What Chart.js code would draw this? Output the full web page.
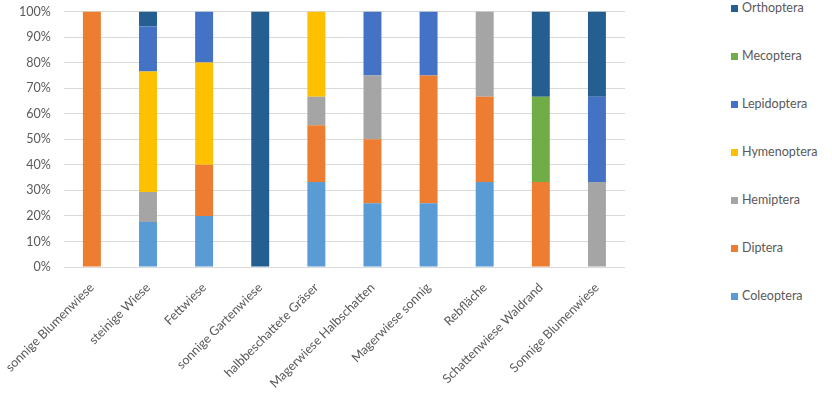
<!DOCTYPE html>
<html>
<head>
<meta charset="utf-8">
<script src="https://cdn.jsdelivr.net/npm/chart.js@4"></script>
<style>
    html, body { margin: 0; padding: 0; background: #fff; overflow: hidden; }
    #wrap { position: relative; width: 832px; height: 396px; overflow: hidden; }
    #box { position: absolute; left: 0; top: -9px; width: 640px; height: 405px; }
    #legend { position: absolute; left: 731px; top: 0; font: 12.5px Lato, sans-serif; color: #595959; }
    #legend .item { position: absolute; left: 0; height: 14px; line-height: 14px; white-space: nowrap; }
    #legend .sw { display: inline-block; width: 7px; height: 7px; margin-right: 4px; vertical-align: 0px; }
</style>
</head>
<body>
<div id="wrap">
    <div id="box"><canvas id="chart"></canvas></div>
    <div id="legend"></div>
</div>
<script>
// categories
const categories = ['sonnige Blumenwiese', 'steinige Wiese', 'Fettwiese', 'sonnige Gartenwiese',
    'halbbeschattete Gräser', 'Magerwiese Halbschatten', 'Magerwiese sonnig', 'Rebfläche',
    'Schattenwiese Waldrand', 'Sonnige Blumenwiese'];

// share per site in %
const coleoptera  = [0, 17.6, 20, 0, 33.3, 25, 25, 33.3, 0, 0];
const diptera     = [100, 0, 20, 0, 22.2, 25, 50, 33.3, 33.3, 0];
const hemiptera   = [0, 11.8, 0, 0, 11.1, 25, 0, 33.4, 0, 33.3];
const hymenoptera = [0, 47.1, 40, 0, 33.4, 0, 0, 0, 0, 0];
const lepidoptera = [0, 17.6, 20, 0, 0, 25, 25, 0, 0, 33.3];
const mecoptera   = [0, 0, 0, 0, 0, 0, 0, 0, 33.3, 0];
const orthoptera  = [0, 5.9, 0, 100, 0, 0, 0, 0, 33.4, 33.4];

const yTicks = [0, 10, 20, 30, 40, 50, 60, 70, 80, 90, 100];

const series = [
    ['Coleoptera', coleoptera, '#5B9BD5'],
    ['Diptera', diptera, '#ED7D31'],
    ['Hemiptera', hemiptera, '#A5A5A5'],
    ['Hymenoptera', hymenoptera, '#FFC000'],
    ['Lepidoptera', lepidoptera, '#4472C4'],
    ['Mecoptera', mecoptera, '#70AD47'],
    ['Orthoptera', orthoptera, '#255E91']
];

const datasets = series.map(function (s) {
    return {
        label: s[0],
        data: s[1],
        backgroundColor: s[2],
        borderWidth: 0,
        barPercentage: 0.32,
        categoryPercentage: 1
    };
});

Chart.defaults.font.family = "Lato, sans-serif";
Chart.defaults.font.size = 12.5;
Chart.defaults.color = '#595959';

new Chart(document.getElementById('chart'), {
    type: 'bar',
    data: { labels: categories, datasets: datasets },
    options: {
        responsive: true,
        maintainAspectRatio: false,
        animation: false,
        layout: { padding: { top: 0, right: 15, left: 0, bottom: 0 } },
        plugins: { legend: { display: false }, tooltip: { enabled: false } },
        scales: {
            x: {
                stacked: true,
                grid: { display: false },
                border: { display: false },
                ticks: { minRotation: 45, maxRotation: 45, padding: 5 }
            },
            y: {
                stacked: true,
                min: 0,
                max: 100,
                afterBuildTicks: function (axis) {
                    axis.ticks = yTicks.map(function (v) { return { value: v }; });
                },
                grid: { color: '#D9D9D9', drawTicks: false },
                border: { display: false },
                ticks: { padding: 13, callback: function (v) { return v + '%'; } }
            }
        }
    }
});

// legend on the right, reversed like the original
const legend = document.getElementById('legend');
series.slice().reverse().forEach(function (s, i) {
    const item = document.createElement('div');
    item.className = 'item';
    item.style.top = (1 + i * 48) + 'px';
    item.innerHTML = '<span class="sw" style="background:' + s[2] + '"></span>' + s[0];
    legend.appendChild(item);
});
</script>
</body>
</html>
